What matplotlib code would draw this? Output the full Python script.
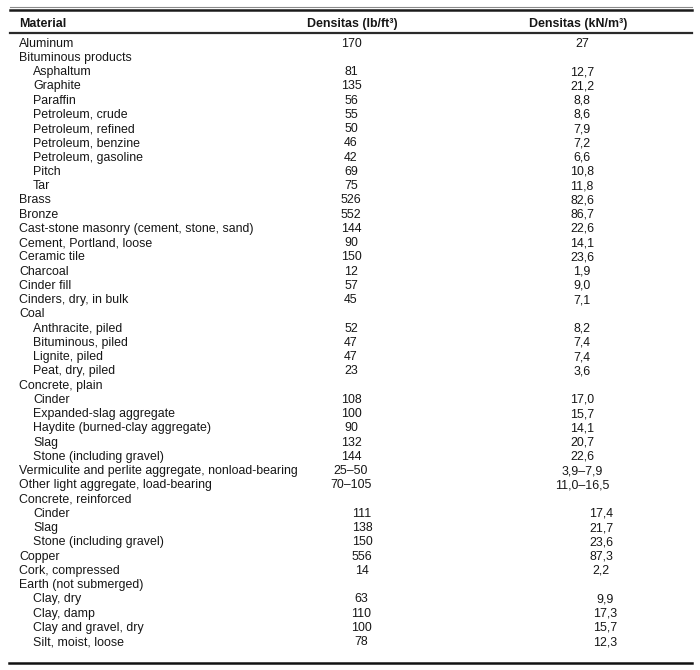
import matplotlib
matplotlib.use("Agg")
import matplotlib.pyplot as plt

# Tabel densitas material (lb/ft3 dan kN/m3)
headers = ["Material", "Densitas (lb/ft³)", "Densitas (kN/m³)"]

materials = [
    "Aluminum", "Bituminous products", "Asphaltum", "Graphite", "Paraffin",
    "Petroleum, crude", "Petroleum, refined", "Petroleum, benzine",
    "Petroleum, gasoline", "Pitch", "Tar", "Brass", "Bronze",
    "Cast-stone masonry (cement, stone, sand)", "Cement, Portland, loose",
    "Ceramic tile", "Charcoal", "Cinder fill", "Cinders, dry, in bulk", "Coal",
    "Anthracite, piled", "Bituminous, piled", "Lignite, piled",
    "Peat, dry, piled", "Concrete, plain", "Cinder", "Expanded-slag aggregate",
    "Haydite (burned-clay aggregate)", "Slag", "Stone (including gravel)",
    "Vermiculite and perlite aggregate, nonload-bearing",
    "Other light aggregate, load-bearing", "Concrete, reinforced", "Cinder",
    "Slag", "Stone (including gravel)", "Copper", "Cork, compressed",
    "Earth (not submerged)", "Clay, dry", "Clay, damp", "Clay and gravel, dry",
    "Silt, moist, loose",
]

# 1 = sub-item (indented)
sub_item = [
    0, 0, 1, 1, 1, 1, 1, 1, 1, 1, 1, 0, 0, 0, 0, 0, 0, 0, 0, 0,
    1, 1, 1, 1, 0, 1, 1, 1, 1, 1, 0, 0, 0, 1, 1, 1, 0, 0, 0, 1, 1, 1, 1,
]

dens_lb = [
    "170", "", "81", "135", "56", "55", "50", "46", "42", "69", "75", "526",
    "552", "144", "90", "150", "12", "57", "45", "", "52", "47", "47", "23",
    "", "108", "100", "90", "132", "144", "25–50", "70–105", "", "111", "138",
    "150", "556", "14", "", "63", "110", "100", "78",
]

dens_kn = [
    "27", "", "12,7", "21,2", "8,8", "8,6", "7,9", "7,2", "6,6", "10,8",
    "11,8", "82,6", "86,7", "22,6", "14,1", "23,6", "1,9", "9,0", "7,1", "",
    "8,2", "7,4", "7,4", "3,6", "", "17,0", "15,7", "14,1", "20,7", "22,6",
    "3,9–7,9", "11,0–16,5", "", "17,4", "21,7", "23,6", "87,3", "2,2", "",
    "9,9", "17,3", "15,7", "12,3",
]

plt.rcParams['font.family'] = ['Liberation Sans', 'DejaVu Sans']
txt = '#161616'
fs = 8.9

fig = plt.figure(figsize=(7, 6.7), dpi=100)
ax = fig.add_axes([0, 0, 1, 1])
ax.set_xlim(0, 700)
ax.set_ylim(670, 0)
ax.axis('off')

# garis atas (ganda), bawah header, dan bawah tabel
ax.plot([10, 692], [6.5, 6.5], color='#8a8a8a', lw=0.8)
ax.plot([10, 692], [10, 10], color='#1a1a1a', lw=1.8)
ax.plot([10, 692], [33.3, 33.3], color='#2a2a2a', lw=1.6)
ax.plot([9, 692], [663, 663], color='#111111', lw=1.8)

hy = 26.9
ax.text(19, hy, headers[0], fontsize=fs, fontweight='bold', color=txt,
        ha='left', va='baseline')
ax.text(352, hy, headers[1], fontsize=fs, fontweight='bold', color=txt,
        ha='center', va='baseline')
ax.text(578, hy, headers[2], fontsize=fs, fontweight='bold', color=txt,
        ha='center', va='baseline')

y0, dy = 46.7, 14.25
for i, name in enumerate(materials):
    y = y0 + i * dy
    x = 33 if sub_item[i] else 19
    ax.text(x, y, name, fontsize=fs, color=txt, ha='left', va='baseline')
    # posisi kolom sedikit bergeser di bagian bawah tabel (seperti aslinya)
    if i < 32:
        c2, c3 = 351, 582
    elif i < 38:
        c2, c3 = 362, 601
    else:
        c2, c3 = 361, 605
    if dens_lb[i]:
        ax.text(c2, y, dens_lb[i], fontsize=fs, color=txt, ha='center', va='baseline')
    if dens_kn[i]:
        ax.text(c3, y, dens_kn[i], fontsize=fs, color=txt, ha='center', va='baseline')

fig.savefig('out.png', dpi=100, facecolor='white')
